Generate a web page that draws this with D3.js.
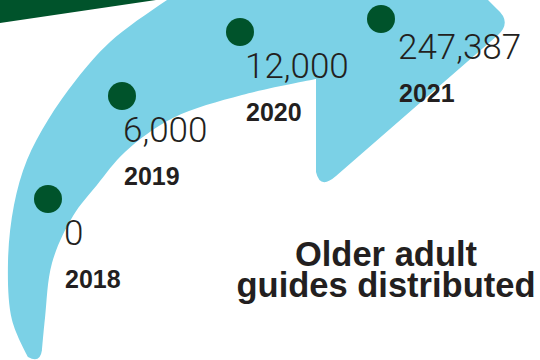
<!DOCTYPE html>
<html>
<head>
<meta charset="utf-8">
<title>older adult guides</title>
<script src="https://d3js.org/d3.v7.min.js"></script>
<style>
  html, body { margin: 0; padding: 0; background: #fff; }
  svg { display: block; }
</style>
</head>
<body>
<div id="chart"></div>
<script>
// data
const years = ["2018", "2019", "2020", "2021"];
const guides = [0, 6000, 12000, 247387];
const titleLines = ["Older adult", "guides distributed"];

// label nudges (layout only)
const valueDx = [16, 1, 5, 17];
const valueDy = [46, 46, 46, 40];
const yearGap = 43;

const width = 540, height = 360;
const blue = "#7bd1e6", green = "#00532b", ink = "#231f20";

const svg = d3.select("#chart").append("svg")
    .attr("width", width)
    .attr("height", height);

// dark green corner wedge
svg.append("path")
    .attr("d", "M0,0 L156,0 L0,23 Z")
    .attr("fill", green);

// big curved arrow
const outer = [[28,357],[12,320],[8,262],[14,205],[27,160],[48,120],[76,80],[110,42],[167,0],[230,-40]];
const inner = [[316,79],[242,95],[173,118],[125,152],[97,185],[73,216],[52,263],[45,318],[42,350]];
const lineGen = d3.line().curve(d3.curveCatmullRom.alpha(0.5));
const arrowD = lineGen(outer)
    + " L440,-48 L497,9 Q512,22 498,35 L336,176 Q320,190 316,172 L316,79 "
    + lineGen(inner).replace(/^M/, "L")
    + " Q40,364 28,357 Z";
svg.append("path")
    .attr("d", arrowD)
    .attr("fill", blue);

// guide curve along the arrow that the dots sit on
const g0 = [48,199], g1 = [93,80.5], g2 = [235.5,2.5], g3 = [381,19];
function guide(t) {
  const u = 1 - t;
  const a = u*u*u, b = 3*u*u*t, c = 3*u*t*t, d = t*t*t;
  return [a*g0[0] + b*g1[0] + c*g2[0] + d*g3[0],
          a*g0[1] + b*g1[1] + c*g2[1] + d*g3[1]];
}

const t = d3.scalePoint().domain(years).range([0, 1]);
const fmt = d3.format(",");

const data = years.map((y, i) => ({ year: y, value: guides[i], p: guide(t(y)), i: i }));

const pts = svg.append("g").selectAll("g")
    .data(data)
    .enter().append("g");

pts.append("circle")
    .attr("cx", d => d.p[0])
    .attr("cy", d => d.p[1])
    .attr("r", 14)
    .attr("fill", green);

pts.append("text")
    .attr("x", d => d.p[0] + valueDx[d.i])
    .attr("y", d => d.p[1] + valueDy[d.i])
    .attr("font-family", "Roboto, 'Liberation Sans', sans-serif")
    .attr("font-weight", 300)
    .attr("font-size", 35)
    .attr("fill", ink)
    .text(d => fmt(d.value));

pts.append("text")
    .attr("x", d => d.p[0] + valueDx[d.i] + 1)
    .attr("y", d => d.p[1] + valueDy[d.i] + yearGap)
    .attr("font-family", "'Liberation Sans', Arial, sans-serif")
    .attr("font-weight", "bold")
    .attr("font-size", 25)
    .attr("fill", ink)
    .text(d => d.year);

// title
svg.append("g").selectAll("text")
    .data(titleLines)
    .enter().append("text")
    .attr("x", 386)
    .attr("y", (d, i) => 266 + i * 31)
    .attr("text-anchor", "middle")
    .attr("font-family", "'Liberation Sans', Arial, sans-serif")
    .attr("font-weight", "bold")
    .attr("font-size", 34.5)
    .attr("fill", ink)
    .text(d => d);
</script>
</body>
</html>
